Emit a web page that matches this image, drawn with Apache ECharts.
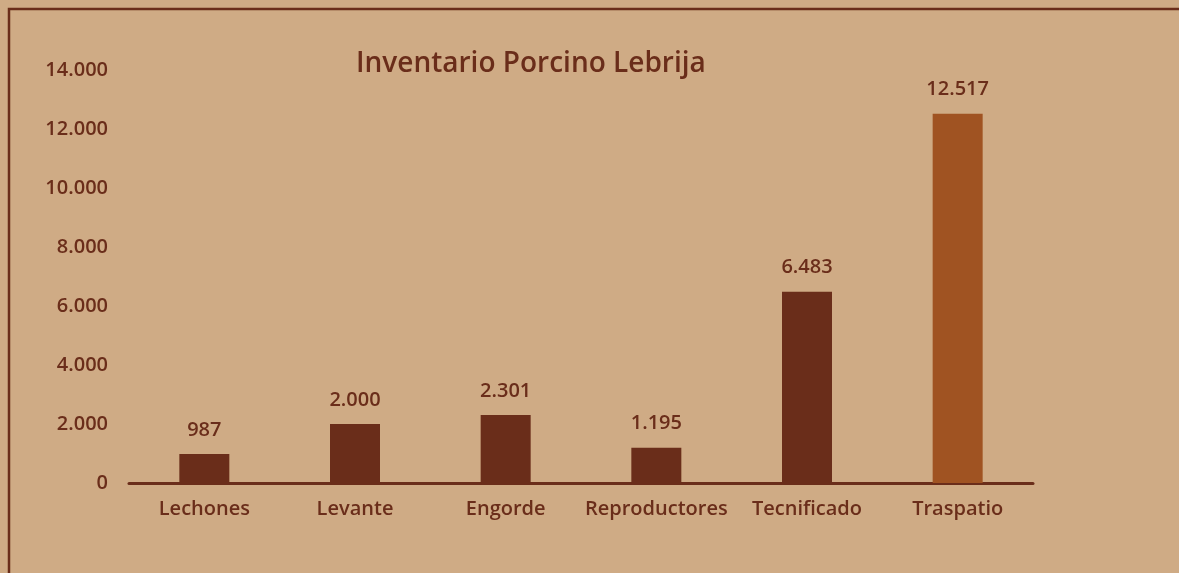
<!DOCTYPE html>
<html>
<head>
<meta charset="utf-8">
<script src="https://cdn.jsdelivr.net/npm/echarts@6/dist/echarts.min.js"></script>
<style>
  html, body { margin: 0; padding: 0; background: #cfab85; }
  #chart { width: 1179px; height: 573px; }
</style>
</head>
<body>
<div id="chart"></div>
<script>
// Pig inventory by category
const categories = ['Lechones', 'Levante', 'Engorde', 'Reproductores', 'Tecnificado', 'Traspatio'];
const values = [987, 2000, 2301, 1195, 6483, 12517];
const barColors = ['#6a2d1a', '#6a2d1a', '#6a2d1a', '#6a2d1a', '#6a2d1a', '#a05322'];

const textColor = '#6a2d1a';
const fontFamily = '"Open Sans", "Noto Sans", sans-serif';

// Spanish thousands separator
function fmt(v) {
  return String(v).replace(/\B(?=(\d{3})+(?!\d))/g, '.');
}

const chart = echarts.init(document.getElementById('chart'));
chart.setOption({
  backgroundColor: '#cfab85',
  animation: false,
  title: {
    text: 'Inventario Porcino Lebrija',
    left: 351,
    top: 45,
    textStyle: { color: textColor, fontSize: 28, fontWeight: 600, fontFamily: fontFamily }
  },
  graphic: [{
    type: 'rect',
    shape: { x: 9, y: 9, width: 1300, height: 700 },
    style: { fill: 'none', stroke: '#6a2d1a', lineWidth: 2.5 },
    silent: true
  }],
  grid: { left: 129, right: 146, top: 70, bottom: 90 },
  xAxis: {
    type: 'category',
    data: categories,
    axisLine: { lineStyle: { color: '#6a2d1a', width: 3 } },
    axisTick: { show: false },
    axisLabel: {
      interval: 0, hideOverlap: false,
      color: textColor, fontSize: 20, fontWeight: 600, fontFamily: fontFamily, margin: 16
    }
  },
  yAxis: {
    type: 'value',
    min: 0,
    max: 14000,
    interval: 2000,
    splitLine: { show: false },
    axisLine: { show: false },
    axisTick: { show: false },
    axisLabel: {
      color: textColor, fontSize: 20, fontWeight: 600, fontFamily: fontFamily, margin: 21,
      formatter: v => fmt(v)
    }
  },
  series: [{
    type: 'bar',
    barWidth: 50,
    data: values.map((v, i) => ({ value: v, itemStyle: { color: barColors[i] } })),
    label: {
      show: true,
      position: 'top',
      distance: 14,
      color: textColor, fontSize: 20, fontWeight: 600, fontFamily: fontFamily,
      formatter: p => fmt(p.value)
    }
  }]
});
</script>
</body>
</html>
